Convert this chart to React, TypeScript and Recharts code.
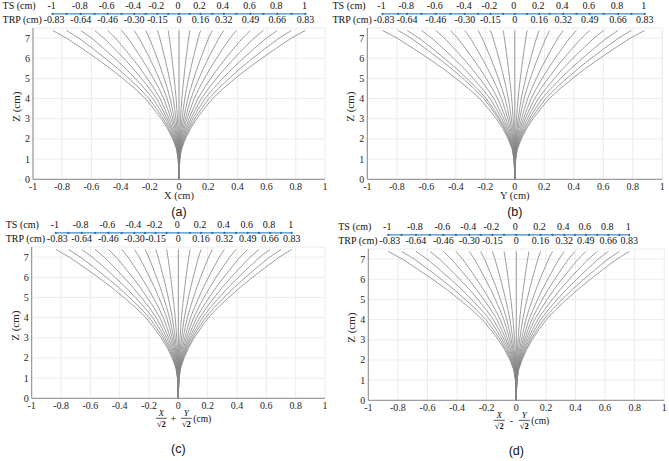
import React from 'react';
import { LineChart, Line, XAxis, YAxis, CartesianGrid, ReferenceLine, ReferenceDot } from 'recharts';

const X_TICKS = [-1, -0.8, -0.6, -0.4, -0.2, 0, 0.2, 0.4, 0.6, 0.8, 1];
const Z_TICKS = [0, 1, 2, 3, 4, 5, 6, 7];
const TS_LABELS = ['-1', '-0.8', '-0.6', '-0.4', '-0.2', '0', '0.2', '0.4', '0.6', '0.8', '1'];
const TRP_LABELS = ['-0.83', '-0.64', '-0.46', '-0.30', '-0.15', '0', '0.16', '0.32', '0.49', '0.66', '0.83'];

// common ray profile (fraction of the top-end offset reached at each height z)
const PROFILE_Z = [0, 0.5, 1, 1.5, 2, 2.5, 3, 3.5, 4, 4.5, 5, 5.5, 6, 6.5, 7, 7.38];
const PROFILE_F = [0, 0.002, 0.007, 0.02, 0.05, 0.09, 0.14, 0.2, 0.265, 0.35, 0.445, 0.545, 0.655, 0.77, 0.89, 1];

// x position of each of the 21 rays at their top end, per panel
const TOP_A = [-0.866, -0.771, -0.673, -0.578, -0.489, -0.393, -0.307, -0.228, -0.148, -0.074, 0, 0.074, 0.148, 0.228, 0.307, 0.393, 0.489, 0.578, 0.673, 0.771, 0.866];
const TOP_B = [-0.897, -0.791, -0.73, -0.633, -0.536, -0.436, -0.339, -0.249, -0.165, -0.079, 0, 0.084, 0.165, 0.237, 0.328, 0.418, 0.508, 0.603, 0.7, 0.791, 0.881];
const TOP_C = [-0.836, -0.75, -0.659, -0.568, -0.477, -0.386, -0.3, -0.227, -0.155, -0.08, 0, 0.08, 0.155, 0.232, 0.314, 0.393, 0.473, 0.55, 0.625, 0.7, 0.773];
const TOP_D = [-0.865, -0.775, -0.678, -0.583, -0.493, -0.408, -0.318, -0.241, -0.162, -0.083, 0, 0.086, 0.164, 0.245, 0.324, 0.396, 0.47, 0.547, 0.622, 0.696, 0.764];

const STRIP_Z = 8.2;
const SERIF = '"Liberation Serif", "Times New Roman", serif';
const SANS = '"Liberation Sans", Arial, sans-serif';
const TEXT = '#262626';
const serif = { fontFamily: SERIF };
const sans = { fontFamily: SANS };

const buildRays = (tops: number[]) =>
  tops.map((end) => PROFILE_Z.map((z, k) => ({ x: end * PROFILE_F[k], z })));

const XTick = (p: any) => (
  <text style={serif} x={p.x} y={p.y + 7.2} textAnchor="middle" fontSize={10} fill={TEXT}>
    {String(p.payload.value)}
  </text>
);

const YTick = (p: any) => (
  <text style={serif} x={p.x} y={p.y + 3.5} textAnchor="end" fontSize={10} fill={TEXT}>
    {String(p.payload.value)}
  </text>
);

const stripLabel = (i: number) => (props: any) => {
  const vb = props.viewBox || {};
  const cx = vb.x + vb.width / 2;
  const cy = vb.y + vb.height / 2;
  const even = i % 2 === 0;
  return (
    <g style={serif} fontSize={10} fill="#111">
      {i === 0 && (
        <>
          <text style={serif} x={cx - 50} y={cy - 4.5} textAnchor="start">TS (cm)</text>
          <text style={serif} x={cx - 50} y={cy + 9} textAnchor="start">TRP (cm)</text>
        </>
      )}
      {even && (
        <>
          <text style={serif} x={cx - 1} y={cy - 4.5} textAnchor="middle">{TS_LABELS[i / 2]}</text>
          <text style={serif} x={i === 0 ? cx + 1.5 : cx} y={cy + 9} textAnchor="middle">{TRP_LABELS[i / 2]}</text>
        </>
      )}
    </g>
  );
};

type PanelProps = {
  left: number;
  top: number;
  mLeft: number;
  mRight: number;
  tops: number[];
  axis: 'X' | 'Y' | 'sum' | 'diff';
  letter: string;
};

const xLabel = (axis: PanelProps['axis'], letter: string) => (props: any) => {
  const vb = props.viewBox || {};
  const cx = vb.x + vb.width / 2;
  const y = vb.y;
  if (axis === 'X' || axis === 'Y') {
    return (
      <g>
        <text style={serif} x={cx} y={y + 20} textAnchor="middle" fontSize={10.5} fill={TEXT}>
          {axis} (cm)
        </text>
        <text style={sans} x={cx} y={y + 36.2} textAnchor="middle" fontSize={12.5} fill="#111">
          {letter}
        </text>
      </g>
    );
  }
  const op = axis === 'sum' ? '+' : '-';
  const fx = cx - 17;
  const fy = cx + 8;
  return (
    <g fill="#111">
      <text style={serif} x={fx} y={y + 17.3} textAnchor="middle" fontStyle="italic" fontSize={9}>X</text>
      <line x1={fx - 5.5} x2={fx + 5.5} y1={y + 20} y2={y + 20} stroke="#111" strokeWidth={0.7} />
      <text style={serif} x={fx} y={y + 28.8} textAnchor="middle" fontWeight="bold" fontSize={8.5}>√2</text>
      <text style={serif} x={cx - 5} y={y + 23.3} textAnchor="middle" fontSize={10}>{op}</text>
      <text style={serif} x={fy} y={y + 17.3} textAnchor="middle" fontStyle="italic" fontSize={9}>Y</text>
      <line x1={fy - 5.5} x2={fy + 5.5} y1={y + 20} y2={y + 20} stroke="#111" strokeWidth={0.7} />
      <text style={serif} x={fy} y={y + 28.8} textAnchor="middle" fontWeight="bold" fontSize={8.5}>√2</text>
      <text style={serif} x={cx + 15} y={y + 23.3} textAnchor="start" fontSize={9.5}>(cm)</text>
      <text style={sans} x={cx} y={y + 54.8} textAnchor="middle" fontSize={12.5}>{letter}</text>
    </g>
  );
};

const yLabel = (props: any) => {
  const vb = props.viewBox || {};
  const x = vb.x + 9;
  const y = vb.y + vb.height / 2 + 3;
  return (
    <text style={serif} x={x} y={y} transform={`rotate(-90 ${x} ${y})`} textAnchor="middle" fontSize={11} fill={TEXT}>
      Z (cm)
    </text>
  );
};

const EXTRA = 15;

const Panel = ({ left, top, mLeft, mRight, tops, axis, letter }: PanelProps) => {
  const rays = buildRays(tops);
  return (
    <div style={{ position: 'absolute', left: left - EXTRA, top, fontFamily: SERIF }}>
      <LineChart width={334 + EXTRA} height={242} margin={{ top: 28, right: mRight, bottom: 42.7, left: mLeft + EXTRA }}>
        <CartesianGrid stroke="#ececec" strokeWidth={1} />
        <XAxis
          type="number"
          dataKey="x"
          domain={[-1, 1]}
          ticks={X_TICKS}
          interval={0}
          allowDataOverflow
          height={20}
          tickLine={false}
          tickSize={3}
          tickMargin={0}
          axisLine={{ stroke: '#8a8a8a' }}
          tick={<XTick />}
          label={xLabel(axis, letter)}
        />
        <YAxis
          type="number"
          dataKey="z"
          domain={[0, 7.5]}
          ticks={Z_TICKS}
          interval={0}
          allowDataOverflow
          width={22}
          tickLine={false}
          tickSize={3}
          tickMargin={0}
          axisLine={{ stroke: '#8a8a8a' }}
          tick={<YTick />}
          label={yLabel}
        />
        {rays.map((pts, i) => (
          <Line
            key={i}
            data={pts}
            dataKey="z"
            type="linear"
            stroke="#858585"
            strokeWidth={0.8}
            dot={false}
            activeDot={false}
            isAnimationActive={false}
          />
        ))}
        <ReferenceLine
          segment={[{ x: tops[0], y: STRIP_Z }, { x: tops[tops.length - 1], y: STRIP_Z }]}
          stroke="#3d8bc9"
          strokeWidth={1.3}
          ifOverflow="visible"
        />
        {tops.map((x, i) => (
          <ReferenceDot
            key={'d' + i}
            x={x}
            y={STRIP_Z}
            r={1.1}
            fill="#2a6fb0"
            stroke="none"
            ifOverflow="visible"
            label={stripLabel(i)}
          />
        ))}
      </LineChart>
    </div>
  );
};

export default function App() {
  return (
    <div style={{ position: 'absolute', left: 0, top: 0, width: 669, height: 461, background: '#fff', overflow: 'hidden', fontFamily: SERIF }}>
      <Panel left={0} top={0} mLeft={11} mRight={9} tops={TOP_A} axis="X" letter="(a)" />
      <Panel left={335} top={0} mLeft={10.3} mRight={6.7} tops={TOP_B} axis="Y" letter="(b)" />
      <Panel left={0} top={219.4} mLeft={9.7} mRight={9} tops={TOP_C} axis="sum" letter="(c)" />
      <Panel left={335} top={220.7} mLeft={11.3} mRight={4.7} tops={TOP_D} axis="diff" letter="(d)" />
    </div>
  );
}
